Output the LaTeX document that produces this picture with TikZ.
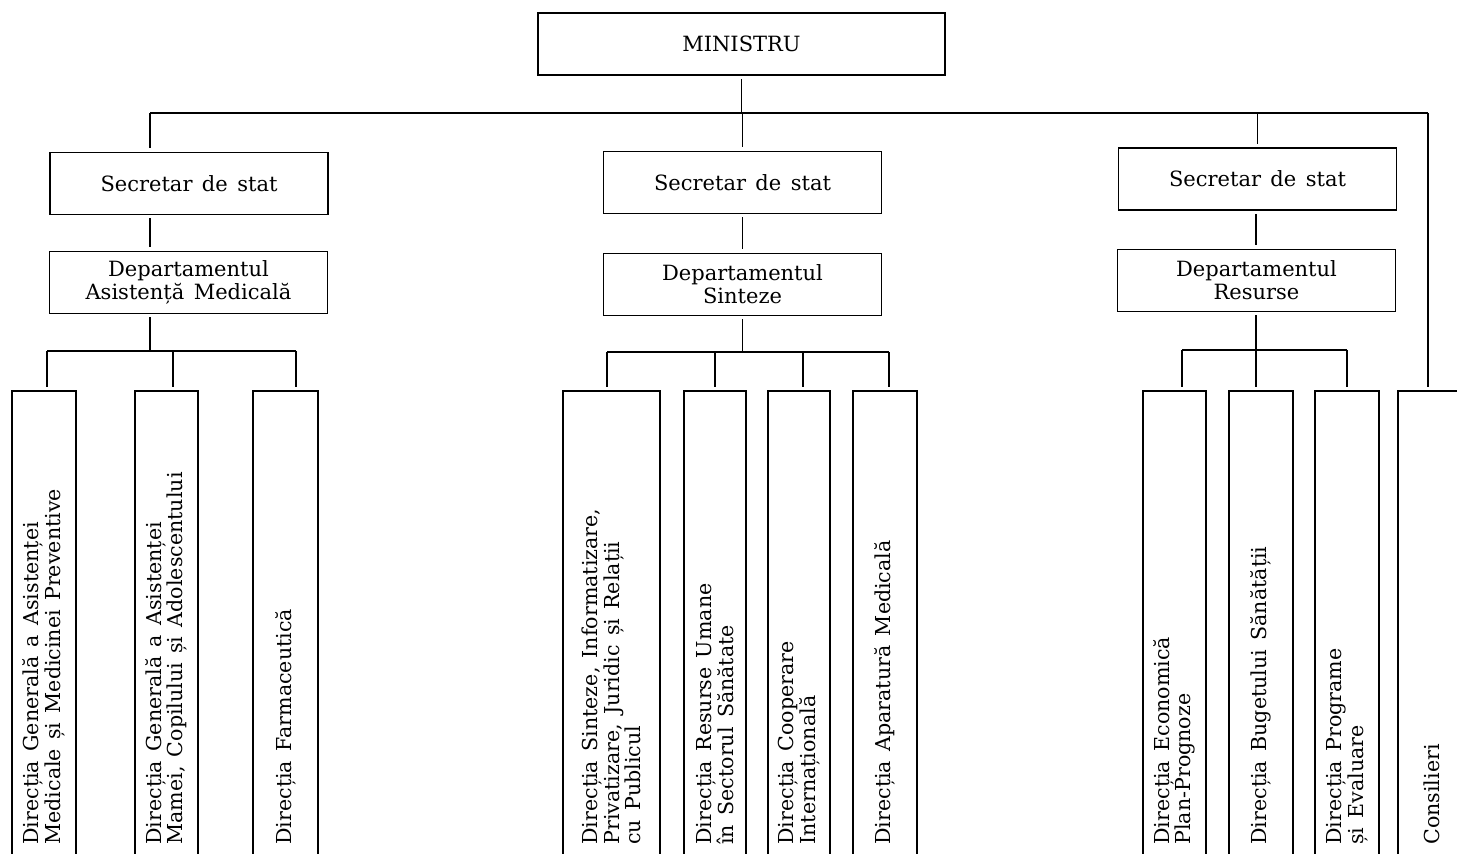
\documentclass[tikz,border=0pt]{standalone}
\usepackage{fontspec}
\setmainfont{DejaVu Serif}
\usepackage{tikz}

\begin{document}
\begin{tikzpicture}[x=0.5pt,y=-0.5pt]
  \tikzset{BoxStyle/.style = {
    shape         = rectangle,
    draw          = black,
    line width    = 0.6pt,
    text          = black,
    align         = center,
    font          = {\fontsize{10.5}{11.5}\selectfont\spaceskip 0.45em\relax},
    inner sep     = 0pt,
    outer sep     = 2pt,
    minimum width = 139pt,
    minimum height= 31pt
    }
  }
  \tikzset{DirStyle/.style = {
    shape         = rectangle,
    draw          = none,
    inner sep     = 0pt,
    outer sep     = 0pt,
    minimum height= 234.5pt
    }
  }
  \tikzset{DirTextStyle/.style = {
    rotate        = 90,
    anchor        = west,
    align         = left,
    text          = black,
    font          = {\fontsize{10.3}{10.8}\selectfont\spaceskip 0.45em\relax},
    inner sep     = 0pt
    }
  }
  \tikzset{EdgeStyle/.style = {
    draw          = black,
    line width    = 0.6pt
    }
  }
  \useasboundingbox (0,0) rectangle (1457,854);

  % upper levels
  \node[BoxStyle, minimum width=203.5pt](MIN) at (741.5, 44) {MINISTRU};
  \node[BoxStyle](S1) at (189, 183.5) {Secretar de stat};
  \node[BoxStyle](S2) at (742.5, 182.5) {Secretar de stat};
  \node[BoxStyle](S3) at (1257.5, 179) {Secretar de stat};
  \node[BoxStyle](D1) at (188.5, 282.5) {Departamentul\\Asistență Medicală};
  \node[BoxStyle](D2) at (742.5, 284.5) {Departamentul\\Sinteze};
  \node[BoxStyle](D3) at (1256.5, 280.5) {Departamentul\\Resurse};

  % directions
  \node[DirStyle, minimum width=32pt](L1) at (44, 625.5) {};
  \node[DirStyle, minimum width=31.5pt](L2) at (166.5, 625.5) {};
  \node[DirStyle, minimum width=32.5pt](L3) at (285.5, 625.5) {};
  \node[DirStyle, minimum width=48.5pt](M1) at (611.5, 625.5) {};
  \node[DirStyle, minimum width=31pt](M2) at (715, 625.5) {};
  \node[DirStyle, minimum width=31pt](M3) at (799, 625.5) {};
  \node[DirStyle, minimum width=32pt](M4) at (885, 625.5) {};
  \node[DirStyle, minimum width=31.5pt](R1) at (1174.5, 625.5) {};
  \node[DirStyle, minimum width=32pt](R2) at (1261, 625.5) {};
  \node[DirStyle, minimum width=32pt](R3) at (1347, 625.5) {};
  \node[DirStyle, minimum width=34pt](C) at (1432, 625.5) {};

  \draw[EdgeStyle](L1.south west) |- (L1.north east) -- (L1.south east);
  \draw[EdgeStyle](L2.south west) |- (L2.north east) -- (L2.south east);
  \draw[EdgeStyle](L3.south west) |- (L3.north east) -- (L3.south east);
  \draw[EdgeStyle](M1.south west) |- (M1.north east) -- (M1.south east);
  \draw[EdgeStyle](M2.south west) |- (M2.north east) -- (M2.south east);
  \draw[EdgeStyle](M3.south west) |- (M3.north east) -- (M3.south east);
  \draw[EdgeStyle](M4.south west) |- (M4.north east) -- (M4.south east);
  \draw[EdgeStyle](R1.south west) |- (R1.north east) -- (R1.south east);
  \draw[EdgeStyle](R2.south west) |- (R2.north east) -- (R2.south east);
  \draw[EdgeStyle](R3.south west) |- (R3.north east) -- (R3.south east);
  \draw[EdgeStyle](C.south west) |- (C.north east) -- (C.south east);

  \node[DirTextStyle](L1t) at ([yshift=7.5pt]L1.south) {Direcția Generală a Asistenței\\Medicale și Medicinei Preventive};
  \node[DirTextStyle](L2t) at ([yshift=7.5pt]L2.south) {Direcția Generală a Asistenței\\Mamei, Copilului și Adolescentului};
  \node[DirTextStyle](L3t) at ([yshift=7.5pt]L3.south) {Direcția Farmaceutică};
  \node[DirTextStyle](M1t) at ([yshift=7.5pt]M1.south) {Direcția Sinteze, Informatizare,\\Privatizare, Juridic și Relații\\cu Publicul};
  \node[DirTextStyle](M2t) at ([yshift=7.5pt]M2.south) {Direcția Resurse Umane\\în Sectorul Sănătate};
  \node[DirTextStyle](M3t) at ([yshift=7.5pt]M3.south) {Direcția Cooperare\\Internațională};
  \node[DirTextStyle](M4t) at ([yshift=7.5pt]M4.south) {Direcția Aparatură Medicală};
  \node[DirTextStyle](R1t) at ([yshift=7.5pt]R1.south) {Direcția Economică\\Plan-Prognoze};
  \node[DirTextStyle](R2t) at ([yshift=7.5pt]R2.south) {Direcția Bugetului Sănătății};
  \node[DirTextStyle](R3t) at ([yshift=7.5pt]R3.south) {Direcția Programe\\și Evaluare};
  \node[DirTextStyle](Ct) at ([yshift=7.5pt]C.south) {Consilieri};

  % connectors
  \coordinate (busL) at (150, 113);
  \coordinate (busR) at (1428, 113);
  \coordinate (la) at (47, 351);
  \coordinate (lb) at (173, 351);
  \coordinate (lc) at (296, 351);
  \coordinate (ma) at (607, 352);
  \coordinate (mb) at (715, 352);
  \coordinate (mc) at (803, 352);
  \coordinate (md) at (889, 352);
  \coordinate (ra) at (1182, 350);
  \coordinate (rb) at (1256, 350);
  \coordinate (rc) at (1347, 350);

  \draw[EdgeStyle](MIN.south) -- (MIN.south |- busL);
  \draw[EdgeStyle](busL) -- (busR);
  \draw[EdgeStyle](busL) -- (busL |- S1.north);
  \draw[EdgeStyle](S2.north |- busL) -- (S2.north);
  \draw[EdgeStyle](S3.north |- busL) -- (S3.north);
  \draw[EdgeStyle, shorten >=2pt](busR) -- (busR |- C.north);
  \draw[EdgeStyle](S1.south -| busL) -- (D1.north -| busL);
  \draw[EdgeStyle](S2.south) -- (S2.south |- D2.north);
  \draw[EdgeStyle](S3.south -| rb) -- (D3.north -| rb);
  \draw[EdgeStyle](D1.south -| busL) -- (busL |- la);
  \draw[EdgeStyle](D2.south) -- (D2.south |- ma);
  \draw[EdgeStyle](D3.south -| rb) -- (rb);
  \draw[EdgeStyle](la) -- (lc);
  \draw[EdgeStyle](ma) -- (md);
  \draw[EdgeStyle](ra) -- (rc);
  \draw[EdgeStyle, shorten >=2pt](la) -- (la |- L1.north);
  \draw[EdgeStyle, shorten >=2pt](lb) -- (lb |- L2.north);
  \draw[EdgeStyle, shorten >=2pt](lc) -- (lc |- L3.north);
  \draw[EdgeStyle, shorten >=2pt](ma) -- (ma |- M1.north);
  \draw[EdgeStyle, shorten >=2pt](mb) -- (mb |- M2.north);
  \draw[EdgeStyle, shorten >=2pt](mc) -- (mc |- M3.north);
  \draw[EdgeStyle, shorten >=2pt](md) -- (md |- M4.north);
  \draw[EdgeStyle, shorten >=2pt](ra) -- (ra |- R1.north);
  \draw[EdgeStyle, shorten >=2pt](rb) -- (rb |- R2.north);
  \draw[EdgeStyle, shorten >=2pt](rc) -- (rc |- R3.north);

\end{tikzpicture}
\end{document}
